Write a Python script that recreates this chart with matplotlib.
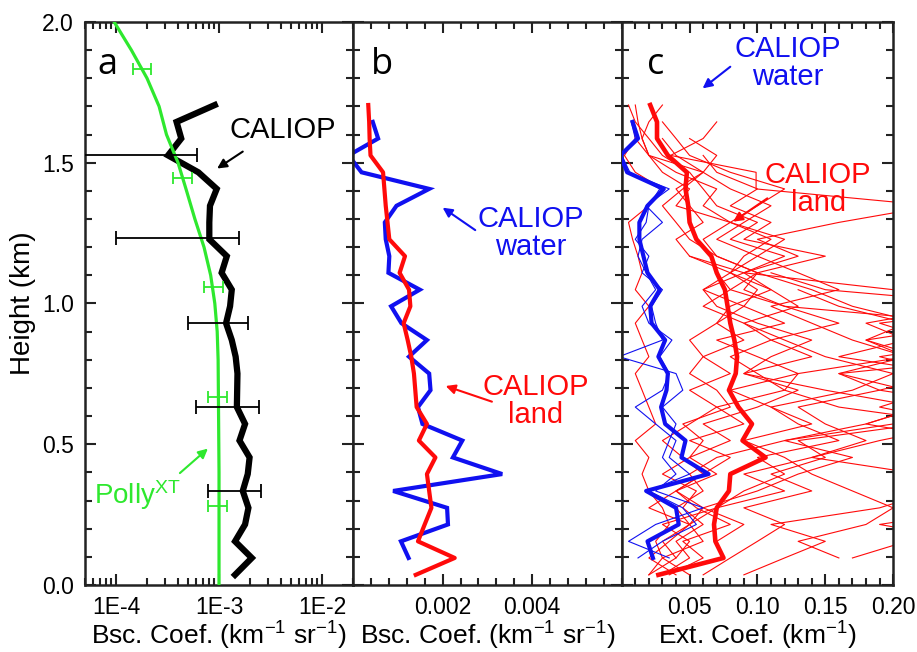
import matplotlib
matplotlib.use('Agg')
import matplotlib.pyplot as plt
import numpy as np
from matplotlib.ticker import MultipleLocator, LogLocator, NullFormatter, FormatStrFormatter

plt.rcParams['font.family'] = ['Liberation Sans', 'DejaVu Sans']
plt.rcParams['mathtext.fontset'] = 'custom'
plt.rcParams['mathtext.rm'] = 'Liberation Sans'
plt.rcParams['mathtext.default'] = 'regular'

nan = np.nan

#--------------------------------------------------------------- DATA
# CALIOP height grid (km), bottom to top
height = [0.036, 0.096, 0.155, 0.215, 0.274, 0.334, 0.394, 0.453, 0.513, 0.572,
          0.632, 0.692, 0.751, 0.811, 0.870, 0.930, 0.990, 1.049, 1.109, 1.168,
          1.228, 1.288, 1.347, 1.407, 1.466, 1.526, 1.586, 1.645, 1.705]

# panel a: PollyXT backscatter profile
polly_h = [2.0, 1.9, 1.8, 1.7, 1.6, 1.5, 1.4, 1.3, 1.2, 1.1, 1.0, 0.9, 0.8, 0.6, 0.4, 0.2, 0.0]
polly_bsc = [9.6e-5, 1.41e-4, 2.0e-4, 2.62e-4, 3.09e-4, 4.0e-4, 4.84e-4, 5.83e-4, 7.15e-4,
             8.3e-4, 9.1e-4, 9.6e-4, 9.8e-4, 9.9e-4, 1.0e-3, 1.0e-3, 1.0e-3]
polly_err_h = [1.833, 1.445, 1.06, 0.669, 0.281]
polly_err_x = [1.83e-4, 4.5e-4, 9.0e-4, 9.9e-4, 9.9e-4]
polly_err = [3.7e-5, 9.2e-5, 1.9e-4, 2.0e-4, 2.0e-4]

# panel a: CALIOP mean backscatter
caliop_bsc = [1.43e-3, 2.08e-3, 1.43e-3, 1.79e-3, 1.93e-3, 1.70e-3, 1.90e-3, 1.98e-3, 1.58e-3, 1.79e-3,
              1.49e-3, 1.50e-3, 1.51e-3, 1.45e-3, 1.33e-3, 1.17e-3, 1.28e-3, 1.33e-3, 1.06e-3, 1.19e-3,
              8.05e-4, 8.05e-4, 8.17e-4, 9.5e-4, 6.3e-4, 3.2e-4, 4.3e-4, 3.87e-4, 9.1e-4]
caliop_err_h = [0.335, 0.633, 0.932, 1.231, 1.527]
caliop_err_x = [1.67e-3, 1.51e-3, 1.2e-3, 8.3e-4, 3.2e-4]
caliop_err = [8.8e-4, 9.1e-4, 7.0e-4, 7.3e-4, 2.93e-4]

# panel b: CALIOP backscatter land / water
land_bsc = [1.4e-3, 2.27e-3, 1.45e-3, 1.6e-3, 1.75e-3, 1.7e-3, 1.65e-3, 1.84e-3, 1.47e-3, 1.65e-3,
            1.42e-3, 1.39e-3, 1.36e-3, 1.3e-3, 1.22e-3, 1.13e-3, 1.28e-3, 1.25e-3, 1.04e-3, 1.16e-3,
            8.1e-4, 7.7e-4, 7.3e-4, 7.0e-4, 6.7e-4, 3.9e-4, 3.7e-4, 3.6e-4, 3.4e-4]
water_bsc = [nan, 1.24e-3, 1.07e-3, 2.12e-3, 2.1e-3, 8.96e-4, 3.33e-3, 2.23e-3, 2.44e-3, 1.55e-3,
             1.45e-3, 1.73e-3, 1.7e-3, 1.25e-3, 1.65e-3, 1.08e-3, 8.5e-4, 1.49e-3, 7.9e-4, 8.1e-4,
             7.3e-4, 7.1e-4, 9.7e-4, 1.7e-3, 1.9e-4, -1e-4, 5.6e-4, 4.4e-4, nan]

# panel c: CALIOP extinction, means
land_ext = [0.027, 0.075, 0.069, 0.068, 0.070, 0.079, 0.080, 0.106, 0.089, 0.096,
            0.086, 0.079, 0.084, 0.085, 0.083, 0.080, 0.078, 0.076, 0.070, 0.066,
            0.055, 0.050, 0.049, 0.047, 0.048, 0.034, 0.026, 0.026, 0.021]
water_ext = [nan, 0.023, 0.019, 0.042, 0.040, 0.018, 0.064, 0.044, 0.047, 0.032,
             0.029, 0.033, 0.034, 0.027, 0.032, 0.022, 0.021, 0.028, 0.019, 0.016,
             0.013, 0.013, 0.019, 0.031, 0.004, -0.001, 0.012, 0.008, nan]

# panel c: individual land profiles
land_single = [
    [0.02, 0.03, 0.025, 0.035, 0.03, 0.02, 0.015, 0.02, 0.01, 0.025, 0.02, 0.015, 0.01, 0.02, 0.015,
     0.01, 0.02, 0.01, 0.015, 0.012, 0.008, 0.005, 0.02, 0.03, 0.01, 0.002, 0.01, 0.008, nan],
    [0.05, 0.03, 0.06, 0.05, 0.04, 0.06, 0.05, 0.07, 0.12, 0.18, 0.22, 0.15, 0.09, 0.11, 0.14,
     0.10, 0.07, 0.06, 0.09, 0.05, 0.04, 0.06, 0.05, 0.04, 0.06, 0.04, 0.03, nan, nan],
    [nan, 0.17, 0.21, 0.24, 0.25, 0.20, 0.22, 0.14, 0.19, 0.25, 0.16, 0.12, 0.13, 0.21, 0.18,
     0.26, 0.12, 0.08, 0.07, nan, nan, nan, nan, nan, nan, nan, nan, nan, nan],
    [0.06, 0.08, 0.10, 0.12, 0.09, 0.14, 0.11, 0.15, 0.13, 0.22, 0.27, 0.19, 0.24, 0.16, 0.21,
     0.18, 0.25, 0.20, 0.09, 0.13, 0.10, 0.16, 0.23, 0.099, 0.099, 0.036, 0.06, 0.07, nan],
    [0.03, 0.05, 0.04, 0.06, 0.045, 0.055, 0.03, 0.05, 0.06, 0.045, 0.08, 0.07, 0.05, 0.06, 0.09,
     0.07, 0.08, 0.11, 0.09, 0.12, 0.08, 0.10, 0.07, 0.06, 0.05, 0.03, 0.02, 0.01, 0.005],
    [nan, 0.04, 0.05, 0.03, 0.07, 0.09, 0.12, 0.10, 0.16, 0.13, 0.11, 0.17, 0.20, 0.15, 0.12,
     0.09, 0.13, 0.11, 0.08, 0.10, 0.07, 0.09, 0.11, 0.08, 0.06, 0.07, 0.05, nan, nan],
    [0.09, 0.12, 0.15, 0.11, 0.19, 0.23, 0.28, 0.21, 0.25, 0.18, 0.22, 0.30, 0.24, 0.19, 0.27,
     0.22, 0.17, 0.14, 0.10, 0.15, 0.09, 0.11, 0.08, 0.10, 0.07, 0.06, nan, nan, nan],
    [nan, 0.16, 0.13, 0.18, 0.20, 0.17, 0.14, 0.12, 0.09, 0.14, 0.11, 0.08, 0.13, 0.10, 0.07,
     0.12, 0.09, 0.06, 0.08, 0.05, nan, nan, nan, nan, nan, nan, nan, nan, nan],
    [0.04, 0.02, 0.035, 0.05, 0.06, 0.04, 0.07, 0.05, 0.08, 0.06, 0.10, 0.13, 0.09, 0.14, 0.11,
     0.16, 0.12, 0.09, 0.10, 0.07, 0.06, 0.08, 0.04, 0.05, 0.03, 0.02, 0.015, 0.02, 0.03],
    [nan, nan, 0.07, 0.09, 0.06, 0.10, 0.13, 0.17, 0.12, 0.20, 0.26, 0.21, 0.16, 0.28, 0.23,
     0.19, 0.29, 0.15, 0.11, nan, nan, nan, nan, nan, nan, nan, nan, nan, nan],
    [0.035, 0.06, 0.045, 0.08, 0.055, 0.04, 0.06, 0.045, 0.03, 0.05, 0.07, 0.05, 0.08, 0.06, 0.05,
     0.07, 0.09, 0.10, 0.08, 0.09, 0.11, 0.08, 0.06, 0.07, 0.04, 0.02, 0.01, nan, nan],
    [nan, 0.22, 0.26, 0.19, 0.27, 0.31, 0.24, 0.29, 0.21, 0.25, 0.19, 0.23, 0.28, 0.22, 0.18,
     0.21, 0.16, 0.13, nan, nan, nan, nan, nan, nan, nan, nan, nan, nan, nan],
    [nan, nan, nan, 0.05, 0.07, 0.12, 0.09, 0.14, 0.18, 0.15, 0.13, 0.19, 0.16, 0.21, 0.17,
     0.14, 0.11, 0.16, 0.13, 0.10, 0.12, 0.08, 0.10, 0.12, 0.08, 0.05, 0.04, 0.03, nan],
    [0.02, 0.04, 0.03, 0.05, 0.02, 0.04, 0.06, 0.08, 0.05, 0.09, 0.07, 0.12, 0.10, 0.08, 0.11,
     0.09, 0.06, 0.08, 0.10, 0.07, 0.05, 0.04, 0.03, 0.045, 0.06, 0.02, 0.015, 0.012, 0.01],
]
# panel c: individual water profiles
water_single = [
    [nan, 0.012, 0.03, 0.055, 0.045, 0.02, 0.05, 0.035, 0.04, 0.025, 0.01, 0.03, 0.035, 0.028, 0.037,
     0.02, 0.015, 0.025, 0.018, 0.012, 0.015, 0.03, 0.018, 0.035, 0.004, -0.002, 0.01, 0.007, nan],
    [nan, 0.035, 0.005, 0.025, 0.06, 0.025, 0.04, 0.03, 0.035, 0.04, 0.03, 0.045, 0.04, -0.002, 0.03,
     0.025, 0.022, 0.03, 0.015, 0.02, 0.01, 0.018, 0.02, 0.028, 0.006, 0.0, 0.012, 0.009, nan],
]

GREEN = '#2ee82e'
BLUE = '#1010f0'
RED = '#ff0a0a'
SPINE = '#222222'

#--------------------------------------------------------------- FIGURE
fig = plt.figure(figsize=(9.17, 6.52), dpi=100)
y0, y1 = 0.1028, 0.9663
ax_a = fig.add_axes([0.0927, y0, 0.385 - 0.0927, y1 - y0])
ax_b = fig.add_axes([0.385, y0, 0.678 - 0.385, y1 - y0])
ax_c = fig.add_axes([0.678, y0, 0.974 - 0.678, y1 - y0])

for ax in (ax_a, ax_b, ax_c):
    ax.set_ylim(0, 2.0)
    ax.yaxis.set_major_locator(MultipleLocator(0.5))
    ax.yaxis.set_minor_locator(MultipleLocator(0.1))
    ax.tick_params(which='both', direction='in', top=True, right=True,
                   width=1.5, color=SPINE, labelsize=16.5, pad=8)
    ax.tick_params(which='major', length=8)
    ax.tick_params(which='minor', length=5)
    for s in ax.spines.values():
        s.set_linewidth(1.8)
        s.set_color(SPINE)

def put_xlabel(ax, txt):
    ax.set_xlabel(txt, fontsize=19)
    ax.xaxis.label.set_va('baseline')
    ax.xaxis.set_label_coords(0.5, -0.1066)

# --- panel a
ax_a.set_xscale('log')
ax_a.set_xlim(5e-5, 2e-2)
ax_a.set_xticks([1e-4, 1e-3, 1e-2])
ax_a.set_xticklabels(['1E-4', '1E-3', '1E-2'])
ax_a.xaxis.set_minor_locator(LogLocator(base=10, subs=np.arange(2, 10)))
ax_a.xaxis.set_minor_formatter(NullFormatter())
ax_a.yaxis.set_major_formatter(FormatStrFormatter('%.1f'))

ax_a.plot(polly_bsc, polly_h, color=GREEN, lw=2.3, zorder=3)
ax_a.errorbar(polly_err_x, polly_err_h, xerr=polly_err, fmt='none', ecolor=GREEN,
              elinewidth=1.3, capsize=4, capthick=1.3, zorder=4)
ax_a.plot(caliop_bsc, height, color='black', lw=4.5, zorder=2, solid_joinstyle='miter')
ax_a.errorbar(caliop_err_x, caliop_err_h, xerr=caliop_err, fmt='none', ecolor='black',
              elinewidth=1.3, capsize=5, capthick=1.3, zorder=5)

ax_a.text(0.082, 0.9076, 'a', transform=ax_a.transAxes, fontsize=26,
          family=['Open Sans', 'DejaVu Sans'], ha='center', va='baseline')
ax_a.text(4.2e-3, 1.616, 'CALIOP', fontsize=21, ha='center', va='center')
ax_a.annotate('', xy=(9.1e-4, 1.474), xytext=(1.79e-3, 1.545),
              arrowprops=dict(arrowstyle='-|>', color='black', lw=1.5, mutation_scale=14))
ax_a.text(1.62e-4, 0.32, 'Polly$^{XT}$', fontsize=20, color=GREEN, ha='center', va='center')
ax_a.annotate('', xy=(8.17e-4, 0.491), xytext=(3.98e-4, 0.391),
              arrowprops=dict(arrowstyle='-|>', color=GREEN, lw=1.5, mutation_scale=14))
ax_a.set_ylabel('Height (km)', fontsize=20)
ax_a.yaxis.label.set_va('center')
ax_a.yaxis.set_label_coords(-0.231, 0.5)
put_xlabel(ax_a, 'Bsc. Coef. (km$^{-1}$ sr$^{-1}$)')

# --- panel b
ax_b.set_xlim(0, 0.006)
ax_b.set_xticks([0.002, 0.004])
ax_b.set_xticklabels(['0.002', '0.004'])
ax_b.xaxis.set_minor_locator(MultipleLocator(0.0004))
ax_b.tick_params(labelleft=False)
ax_b.plot(water_bsc, height, color=BLUE, lw=3, zorder=2, solid_joinstyle='miter')
ax_b.plot(land_bsc, height, color=RED, lw=3, zorder=3)
ax_b.text(0.107, 0.9076, 'b', transform=ax_b.transAxes, fontsize=26,
          family=['Open Sans', 'DejaVu Sans'], ha='center', va='baseline')
ax_b.text(0.00397, 1.25, 'CALIOP\nwater', fontsize=21, color=BLUE, ha='center', va='center',
          linespacing=1.0)
ax_b.annotate('', xy=(0.00195, 1.346), xytext=(0.00278, 1.255),
              arrowprops=dict(arrowstyle='-|>', color=BLUE, lw=1.5, mutation_scale=14))
ax_b.text(0.00408, 0.655, 'CALIOP\nland', fontsize=21, color=RED, ha='center', va='center',
          linespacing=1.0)
ax_b.annotate('', xy=(0.00201, 0.71), xytext=(0.00316, 0.648),
              arrowprops=dict(arrowstyle='-|>', color=RED, lw=1.5, mutation_scale=14))
put_xlabel(ax_b, 'Bsc. Coef. (km$^{-1}$ sr$^{-1}$)')

# --- panel c
ax_c.set_xlim(0, 0.2)
ax_c.set_xticks([0.05, 0.10, 0.15, 0.20])
ax_c.set_xticklabels(['0.05', '0.10', '0.15', '0.20'])
ax_c.xaxis.set_minor_locator(MultipleLocator(0.01))
ax_c.tick_params(labelleft=False)
for prof in land_single:
    ax_c.plot(prof, height, color=RED, lw=0.8, zorder=2)
for prof in water_single:
    ax_c.plot(prof, height, color=BLUE, lw=0.8, zorder=2)
ax_c.plot(water_ext, height, color=BLUE, lw=3, zorder=3)
ax_c.plot(land_ext, height, color=RED, lw=3.3, zorder=4)
ax_c.text(0.124, 0.9076, 'c', transform=ax_c.transAxes, fontsize=26,
          family=['Open Sans', 'DejaVu Sans'], ha='center', va='baseline')
ax_c.text(0.1224, 1.853, 'CALIOP\nwater', fontsize=21, color=BLUE, ha='center', va='center',
          linespacing=1.0)
ax_c.annotate('', xy=(0.058, 1.758), xytext=(0.0816, 1.847),
              arrowprops=dict(arrowstyle='-|>', color=BLUE, lw=1.5, mutation_scale=14))
ax_c.text(0.1448, 1.408, 'CALIOP\nland', fontsize=21, color=RED, ha='center', va='center',
          linespacing=1.0)
ax_c.annotate('', xy=(0.0804, 1.285), xytext=(0.109, 1.379),
              arrowprops=dict(arrowstyle='-|>', color=RED, lw=1.5, mutation_scale=14))
put_xlabel(ax_c, 'Ext. Coef. (km$^{-1}$)')

fig.savefig('out.png', dpi=100)
